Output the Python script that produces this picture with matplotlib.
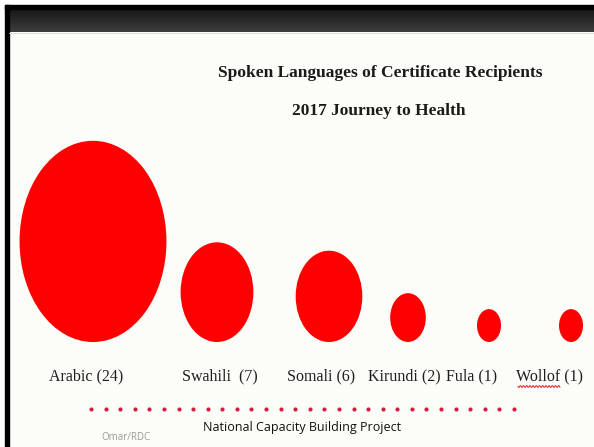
"""
Spoken Languages of Certificate Recipients - bubble row on a slide
Output: out.png
"""

import matplotlib
matplotlib.use("Agg")
import matplotlib.pyplot as plt
import matplotlib.patches as mpatches
import numpy as np

# ── data ──────────────────────────────────────────────────────────────
languages = ["Arabic", "Swahili", "Somali", "Kirundi", "Fula", "Wollof"]
counts = [24, 7, 6, 2, 1, 1]
labels = ["Arabic (24)", "Swahili  (7)", "Somali (6)", "Kirundi (2)",
          "Fula (1)", "Wollof (1)"]

# ── layout (slide pixel coords) ───────────────────────────────────────
bubble_x = [93, 217, 329, 408, 489, 571]
label_x = [86, 220, 321, 404, 472, 550]
base_y = 342          # bubbles sit on a common bottom line
label_y = 376
stretch = 1.37        # slide is squashed horizontally

SERIF = ["Liberation Serif", "DejaVu Serif"]
SANS = ["Open Sans", "DejaVu Sans"]

fig = plt.figure(figsize=(5.94, 4.47), dpi=100)
fig.patch.set_facecolor("white")
ax = fig.add_axes([0, 0, 1, 1])
ax.axis("off")

# slide background + frame
ax.add_patch(mpatches.Rectangle((5, 5), 589, 442, color="#fcfcf8", zorder=0))
ax.add_patch(mpatches.Rectangle((5, 5), 3.5, 442, color="#000000", zorder=2))
grad = np.linspace(0, 1, 40).reshape(-1, 1)
band_cmap = matplotlib.colors.LinearSegmentedColormap.from_list("band", ["#161616", "#3d3d3d"])
ax.imshow(grad, extent=(5, 594, 32, 8.5), cmap=band_cmap, aspect="auto", zorder=1)
ax.add_patch(mpatches.Rectangle((5, 5), 589, 3.5, color="#000000", zorder=2))
ax.plot([8.5, 594], [32.5, 32.5], color="#d8d8d8", lw=0.6, zorder=2)
ax.set_xlim(0, 594)
ax.set_ylim(447, 0)

# titles
ax.text(380, 73, "Spoken Languages of Certificate Recipients", ha="center", va="center",
        fontsize=12.5, fontweight="bold", color="#1a1a1a", family=SERIF)
ax.text(379, 111, "2017 Journey to Health", ha="center", va="center",
        fontsize=12.5, fontweight="bold", color="#1a1a1a", family=SERIF)

# ── bubbles ───────────────────────────────────────────────────────────
for x, n in zip(bubble_x, counts):
    w = 24 * n ** 0.57
    h = w * stretch
    ax.add_patch(mpatches.Ellipse((x, base_y - h / 2), w, h,
                                  facecolor="#ff0000", edgecolor="none", zorder=3))

for x, lab in zip(label_x, labels):
    ax.text(x, label_y, lab, ha="center", va="center", fontsize=11.5,
            color="#1f1f1f", family=SERIF)

# spell-check squiggle under "Wollof"
sx = np.linspace(518, 560, 120)
ax.plot(sx, 386.5 + 0.9 * np.sin((sx - 518) * 2 * np.pi / 3.2),
        color="#e02020", lw=0.7, zorder=4)

# ── footer ────────────────────────────────────────────────────────────
dots_x = np.linspace(91, 514, 30)
ax.scatter(dots_x, np.full_like(dots_x, 409), s=9, color="#d11f3b", zorder=3, linewidths=0)

ax.text(302, 427, "National Capacity Building Project", ha="center", va="center",
        fontsize=9, color="#111111", family=SANS)
ax.text(126, 437, "Omar/RDC", ha="center", va="center",
        fontsize=7, color="#999999", family=SANS)

fig.savefig("out.png", dpi=100, facecolor="white")
plt.close()
